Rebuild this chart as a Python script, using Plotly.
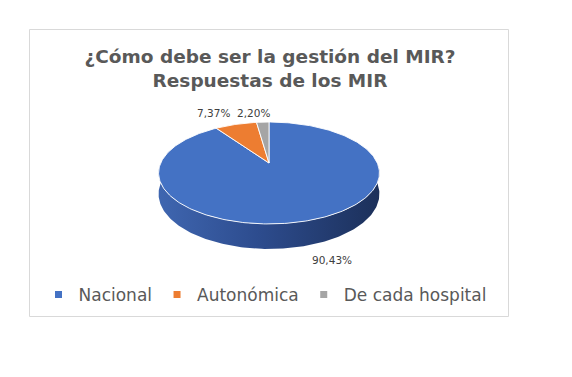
import numpy as np
import plotly.graph_objects as go

# ---- data ----
categories = ["Nacional", "Autonómica", "De cada hospital"]
values = [90.43, 7.37, 2.20]
value_labels = ["90,43%", "7,37%", "2,20%"]
title_lines = ["¿Cómo debe ser la gestión del MIR?", "Respuestas de los MIR"]

# ---- style ----
colors = ["#4472C4", "#ED7D31", "#A5A5A5"]
label_shift = [(24, -15), (-22, 11), (-9, 9)]  # pixel nudges for data labels
W, H = 572, 377
CX, CY = 269.0, 163.0      # apex of the pie on screen
R, RV, A = 108.3, 49.0, 0.196  # horizontal radius, vertical radius, perspective
DEPTH = 20.1
FONT = "DejaVu Sans"
TXT = "#595959"


def proj(theta_deg, r=1.0):
    t = np.radians(theta_deg)
    X = r * np.sin(t)
    Z = r * np.cos(t)
    k = 1 + A * Z
    return CX + R * X / k, CY - RV * Z / k, k


fig = go.Figure()

# slice angles (clockwise from 12 o'clock)
total = float(sum(values))
bounds = np.concatenate([[0.0], np.cumsum(values) / total * 360.0])

# ---- side wall (front half, theta 90..270) ----
th = np.linspace(90, 270, 181)
xt, yt, kt = proj(th)
yb = yt + DEPTH / kt
sx = np.concatenate([xt, xt[::-1]])
sy = np.concatenate([yt, yb[::-1]])
fig.add_trace(go.Scatter(
    x=sx, y=sy, mode="lines", fill="toself",
    line=dict(width=0, color="#2C4A8A"),
    fillgradient=dict(type="horizontal",
                      colorscale=[[0, "#3F66B0"], [0.45, "#2D4C8E"], [1, "#1C305A"]],
                      start=float(xt.min()), stop=float(xt.max())),
    hoverinfo="skip", showlegend=False))

# ---- top faces ----
for i, (name, col) in enumerate(zip(categories, colors)):
    a0, a1 = bounds[i], bounds[i + 1]
    n = max(int((a1 - a0) / 1.0), 3)
    ang = np.linspace(a0, a1, n + 1)
    px, py, _ = proj(ang)
    x = np.concatenate([[CX], px, [CX]])
    y = np.concatenate([[CY], py, [CY]])
    fig.add_trace(go.Scatter(
        x=x, y=y, mode="lines", fill="toself", fillcolor=col,
        line=dict(color="rgba(255,255,255,0.9)", width=1),
        name=name, hoverinfo="skip", showlegend=False))

# ---- data labels ----
for i, lab in enumerate(value_labels):
    mid = (bounds[i] + bounds[i + 1]) / 2
    ex, ey, ek = proj(mid)
    if np.cos(np.radians(mid)) < 0:  # front facing: label below side wall
        ey = ey + DEPTH / ek
    dx, dy = label_shift[i]
    fig.add_annotation(x=ex, y=ey, text=lab, showarrow=False,
                       xshift=dx, yshift=dy,
                       font=dict(family=FONT, size=10.5, color="#404040"))

# ---- legend entries ----
for name, col in zip(categories, colors):
    fig.add_trace(go.Scatter(
        x=[None], y=[None], mode="markers", name=name,
        marker=dict(symbol="square", size=7, color=col)))

# ---- chart border ----
fig.add_shape(type="rect", x0=29.5, y0=29.5, x1=508.5, y1=316.5,
              xref="x", yref="y", line=dict(color="#D9D9D9", width=1),
              fillcolor="rgba(0,0,0,0)", layer="below")

fig.update_layout(
    width=W, height=H, autosize=False,
    margin=dict(l=0, r=0, t=0, b=0),
    paper_bgcolor="white", plot_bgcolor="white",
    title=dict(text="<b>" + "<br>".join(title_lines) + "</b>",
               x=270 / W, xanchor="center", y=1 - 63 / H, yanchor="middle",
               yref="container",
               font=dict(family=FONT, size=18.5, color=TXT)),
    xaxis=dict(range=[0, W], visible=False, fixedrange=True),
    yaxis=dict(range=[H, 0], visible=False, fixedrange=True),
    legend=dict(orientation="h", x=265 / W, xanchor="center",
                y=1 - 295 / H, yanchor="middle",
                font=dict(family=FONT, size=17, color=TXT),
                itemwidth=30, tracegroupgap=0,
                bgcolor="rgba(0,0,0,0)"),
    showlegend=True,
)

fig.write_html("out.html", config={"displayModeBar": False},
               post_script="document.body.style.margin='0';")
